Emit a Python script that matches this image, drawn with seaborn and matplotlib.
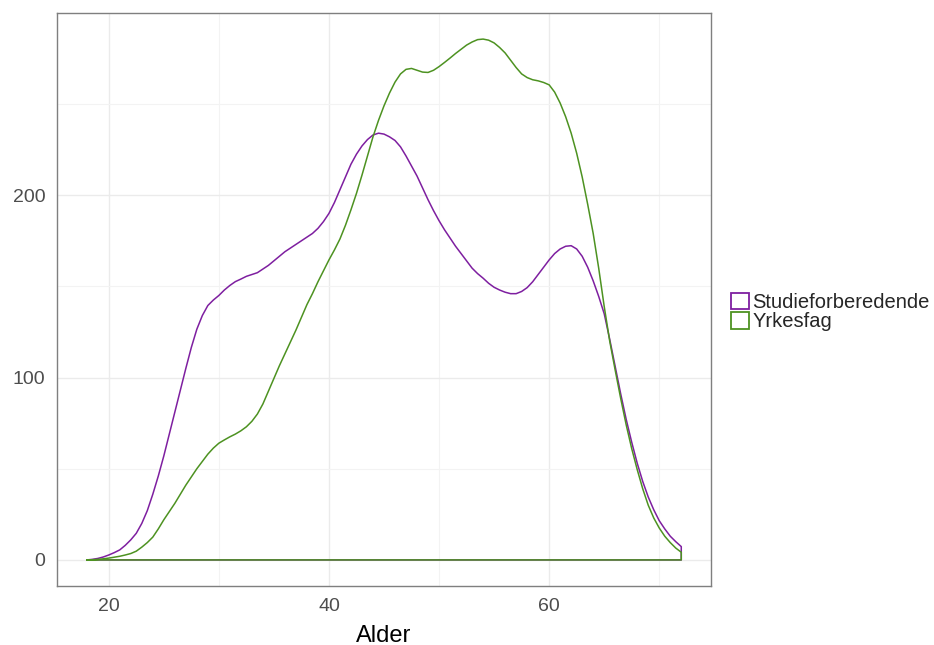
import matplotlib
matplotlib.use("Agg")
from matplotlib import pyplot
from matplotlib.patches import Patch
from matplotlib.ticker import MultipleLocator
import numpy as np
import seaborn
import pandas as pd

# alder (x, hvert halve år) og tetthet skalert til antall, lest av figuren
alder = np.arange(18, 72.5, 0.5)
studie = [
    0, 0.3, 0.8, 1.6, 2.7, 4, 5.5, 8, 11, 14.6,
    20, 27, 36, 46, 57, 69, 81, 93, 105, 116.5,
    126.5, 134, 139.5, 142.5, 145, 148, 150.5, 152.6, 154, 155.5,
    156.5, 157.5, 159.5, 161.5, 164, 166.5, 169, 171, 173, 175,
    177, 179, 181.8, 185.5, 190, 196, 203, 210, 217, 222.5,
    227, 230.5, 233, 234, 233.5, 232, 230, 226.5, 221.5, 216,
    210.5, 204, 197.5, 191.5, 186, 181, 176.5, 172, 168, 164,
    160, 157, 154.5, 151.7, 149.5, 148, 146.8, 146, 146, 147.2,
    149.3, 152.5, 156.5, 160.5, 164.5, 168, 170.5, 172, 172.3, 170.5,
    166.5, 160.5, 153, 144.5, 135, 121, 106, 91, 77, 64.5,
    53, 43, 34.5, 27.5, 21.5, 17, 13, 10, 7.3,
]
yrkesfag = [
    0, 0.1, 0.3, 0.6, 1, 1.5, 2, 2.7, 3.5, 4.8,
    7, 9.5, 12.5, 17, 22, 26.5, 31, 36, 41, 45.5,
    50, 54, 58, 61.3, 64, 65.8, 67.5, 69, 70.8, 73,
    76, 80, 85.5, 92.5, 99.5, 106.5, 113, 119.5, 126, 133,
    140, 146, 152.5, 158.5, 164.5, 170, 176, 183.5, 192, 201,
    211, 221.5, 232, 241, 249, 256, 262, 266.5, 269, 269.5,
    268.5, 267.5, 267.3, 268.5, 270.5, 272.8, 275.2, 277.7, 280, 282.3,
    284, 285.3, 285.6, 285, 283.5, 281, 278, 274, 270, 266.5,
    264.5, 263.3, 262.7, 261.8, 260.5, 256.5, 250.5, 243, 234, 223,
    210, 195, 179, 160, 139, 120, 104, 88.5, 74, 61,
    49.5, 39, 30, 23, 17.5, 13, 9.5, 6.5, 4.2,
]
grupper = ["Studieforberedende", "Yrkesfag"]
farger = {"Studieforberedende": "#7E1FA0", "Yrkesfag": "#4D9221"}


def polygon(navn, xs, ys):
    # lukket omriss som i geom_density: kurve, ned til 0, tilbake langs 0
    px = list(xs) + [xs[-1], xs[0]]
    py = list(ys) + [0, 0]
    return pd.DataFrame({"Alder": px, "count": py, "gruppe": navn})


df = pd.concat([polygon(grupper[0], alder, studie), polygon(grupper[1], alder, yrkesfag)])

seaborn.set_style("white")
pyplot.rcParams["font.family"] = ["Liberation Sans", "DejaVu Sans"]

fig = pyplot.figure(figsize=(9.34, 6.45), dpi=100)
ax = fig.add_axes([57 / 934, 59 / 645, 654 / 934, 573 / 645])

seaborn.lineplot(
    data=df, x="Alder", y="count", hue="gruppe", palette=farger,
    estimator=None, sort=False, units="gruppe", legend=False, linewidth=1.1, ax=ax,
)

ax.set_xlim(15.3, 74.7)
ax.set_ylim(-14.3, 299.9)
ax.xaxis.set_major_locator(MultipleLocator(20))
ax.xaxis.set_minor_locator(MultipleLocator(10))
ax.yaxis.set_major_locator(MultipleLocator(100))
ax.yaxis.set_minor_locator(MultipleLocator(50))
ax.grid(which="major", color="#EBEBEB", linewidth=1.0)
ax.grid(which="minor", color="#F3F3F3", linewidth=0.8)
ax.set_axisbelow(True)

for s in ax.spines.values():
    s.set_color("#7F7F7F")
    s.set_linewidth(1.0)

ax.tick_params(which="major", length=4, width=0.9, color="#7F7F7F",
               labelsize=14, labelcolor="#4D4D4D", pad=4.5)
ax.tick_params(which="minor", length=0)
ax.set_xlabel("Alder", fontsize=17, color="black", labelpad=7)
ax.set_ylabel("")

handles = [Patch(facecolor="white", edgecolor=farger[g], linewidth=1.3, label=g) for g in grupper]
fig.legend(
    handles=handles, loc="center left", bbox_to_anchor=(731 / 934, 1 - 312 / 645),
    frameon=False, fontsize=14.5, handlelength=0.9, handleheight=0.9,
    handletextpad=0.15, labelspacing=0.0, borderpad=0, borderaxespad=0,
)

fig.savefig("out.png", dpi=100)
